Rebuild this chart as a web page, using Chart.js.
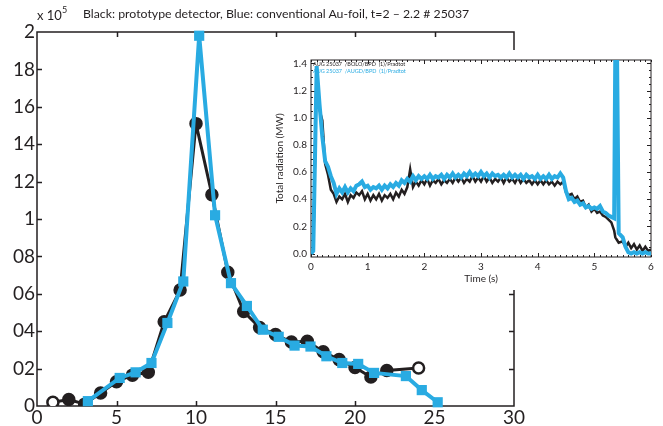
<!DOCTYPE html>
<html>
<head>
<meta charset="utf-8">
<script src="https://cdn.jsdelivr.net/npm/chart.js@4.4.1/dist/chart.umd.min.js"></script>
<style>
  body{ margin:0; background:#fff; }
  #wrap{ position:relative; width:663px; height:426px; overflow:hidden; font-family:Lato,"Noto Sans",sans-serif; color:#231f20; }
  #main{ position:absolute; left:0; top:0; }
  #inset{ position:absolute; left:270px; top:50px; background:#fff; }
  .ttl{ position:absolute; left:83px; top:6px; font-size:12.3px; white-space:nowrap; }
  .exp{ position:absolute; left:37px; top:6px; font-size:13px; white-space:nowrap; }
  .exp sup{ font-size:9px; position:relative; top:-2px; }
  .leg{ position:absolute; left:313px; font-size:5.5px; white-space:nowrap; line-height:1; }
</style>
</head>
<body>
<div id="wrap">
  <canvas id="main" width="663" height="426"></canvas>
  <canvas id="inset" width="393" height="240"></canvas>
  <div class="exp">x 10<sup>5</sup></div>
  <div class="ttl">Black: prototype detector, Blue: conventional Au-foil, t=2 – 2.2 # 25037</div>
  <div class="leg" style="top:62px;color:#231f20">AUG 25037 &nbsp;/BOLO/BPD &nbsp;(1)/Pradtot</div>
  <div class="leg" style="top:69px;color:#29abe2">AUG 25037 &nbsp;/AUGD/BPD &nbsp;(1)/Pradtot</div>
</div>
<script>
// ---- main plot: counts vs channel (x 10^5) ----
const blackX = [1, 2, 3, 4, 5, 6, 7, 8, 9, 10, 11, 12, 13, 14, 15, 16, 17, 18, 19, 20, 21, 22, 24];
const blackY = [0.02, 0.035, 0.01, 0.07, 0.13, 0.165, 0.18, 0.45, 0.62, 1.51, 1.13, 0.715, 0.505, 0.42, 0.382, 0.342, 0.346, 0.29, 0.248, 0.206, 0.155, 0.19, 0.203];
const blueX  = [3.2, 5.2, 6.2, 7.2, 8.2, 9.2, 10.2, 11.2, 12.2, 13.2, 14.2, 15.2, 16.2, 17.2, 18.2, 19.2, 20.2, 21.2, 23.2, 24.2, 25.2];
const blueY  = [0.026, 0.15, 0.18, 0.23, 0.444, 0.666, 1.98, 1.02, 0.657, 0.535, 0.408, 0.37, 0.323, 0.318, 0.266, 0.23, 0.225, 0.177, 0.16, 0.085, 0.02];
const yTickLabels = ['0', '02', '04', '06', '08', '1', '12', '14', '16', '18', '2'];
const xTickLabels = ['0', '5', '10', '15', '20', '25', '30'];

// ---- inset: total radiation (MW) vs time (s) ----
const insetT = [
  0, 0.04, 0.1, 0.15, 0.2, 0.25, 0.3, 0.35, 0.4, 0.45, 0.5, 0.55, 0.6, 0.65, 0.7, 0.75, 0.8, 0.85, 0.9, 0.95,
  1, 1.05, 1.1, 1.15, 1.2, 1.25, 1.3, 1.35, 1.4, 1.45, 1.5, 1.55, 1.6, 1.65, 1.7, 1.75, 1.8, 1.85, 1.9, 1.95,
  2, 2.05, 2.1, 2.15, 2.2, 2.25, 2.3, 2.35, 2.4, 2.45, 2.5, 2.55, 2.6, 2.65, 2.7, 2.75, 2.8, 2.85, 2.9, 2.95,
  3, 3.05, 3.1, 3.15, 3.2, 3.25, 3.3, 3.35, 3.4, 3.45, 3.5, 3.55, 3.6, 3.65, 3.7, 3.75, 3.8, 3.85, 3.9, 3.95,
  4, 4.05, 4.1, 4.15, 4.2, 4.25, 4.3, 4.35, 4.4, 4.45, 4.5, 4.55, 4.6, 4.65, 4.7, 4.75, 4.8, 4.85, 4.9, 4.95,
  5, 5.05, 5.1, 5.15, 5.2, 5.25, 5.3, 5.35, 5.37, 5.4, 5.43, 5.5, 5.55, 5.6, 5.65, 5.7, 5.75, 5.8, 5.85, 5.9, 5.95, 6
];
const bolo = [
  0, 0.02, 1.36, 1.06, 0.98, 0.66, 0.58, 0.47, 0.44, 0.38, 0.42, 0.40, 0.44, 0.38, 0.43, 0.41, 0.45, 0.43, 0.46, 0.40,
  0.44, 0.39, 0.43, 0.40, 0.44, 0.39, 0.43, 0.41, 0.44, 0.40, 0.45, 0.42, 0.47, 0.44, 0.49, 0.62, 0.49, 0.53, 0.50, 0.54,
  0.51, 0.55, 0.50, 0.54, 0.52, 0.55, 0.51, 0.54, 0.52, 0.55, 0.52, 0.56, 0.53, 0.56, 0.52, 0.55, 0.53, 0.57, 0.53, 0.56,
  0.53, 0.57, 0.53, 0.56, 0.52, 0.55, 0.53, 0.56, 0.52, 0.56, 0.53, 0.55, 0.52, 0.56, 0.52, 0.55, 0.52, 0.54, 0.51, 0.54,
  0.51, 0.54, 0.51, 0.54, 0.51, 0.53, 0.50, 0.53, 0.51, 0.53, 0.45, 0.43, 0.44, 0.40, 0.42, 0.38, 0.39, 0.34, 0.36, 0.31,
  0.33, 0.30, 0.31, 0.28, 0.27, 0.25, 0.23, 0.17, 0.12, 0.10, 0.08, 0.09, 0.05, 0.08, 0.04, 0.07, 0.03, 0.06, 0.02, 0.05, 0.02, 0.03
];
const augd = [
  0, 0.02, 1.38, 1.10, 0.86, 0.68, 0.64, 0.57, 0.52, 0.44, 0.48, 0.45, 0.49, 0.45, 0.48, 0.46, 0.50, 0.51, 0.53, 0.49,
  0.50, 0.47, 0.49, 0.48, 0.50, 0.47, 0.50, 0.48, 0.51, 0.49, 0.52, 0.50, 0.54, 0.52, 0.55, 0.53, 0.57, 0.54, 0.57, 0.55,
  0.57, 0.55, 0.58, 0.55, 0.57, 0.56, 0.58, 0.55, 0.58, 0.56, 0.59, 0.56, 0.58, 0.56, 0.59, 0.57, 0.60, 0.57, 0.59, 0.57,
  0.60, 0.57, 0.59, 0.56, 0.59, 0.57, 0.58, 0.56, 0.58, 0.56, 0.59, 0.56, 0.58, 0.56, 0.58, 0.55, 0.58, 0.56, 0.57, 0.55,
  0.58, 0.55, 0.57, 0.55, 0.58, 0.55, 0.57, 0.56, 0.59, 0.56, 0.46, 0.40, 0.41, 0.38, 0.39, 0.36, 0.37, 0.34, 0.35, 0.33,
  0.34, 0.33, 0.35, 0.31, 0.30, 0.28, 0.27, 0.26, 1.5, 1.5, 0.15, 0.12, 0.05, 0.01, 0, 0.01, 0, 0.01, 0, 0.01, 0, 0
];
const insetYLabels = ['0.0', '0.2', '0.4', '0.6', '0.8', '1.0', '1.2', '1.4'];

const INK = '#231f20', BLUE = '#29abe2';
const pts = (xs, ys) => xs.map((x, i) => ({ x, y: ys[i] }));

// inward ticks + box, drawn under the data
function frameTicks(opt){
  return {
    id: 'frameTicks',
    beforeDatasetsDraw(chart){
      const { ctx, chartArea: a, scales: { x, y } } = chart;
      ctx.save();
      ctx.strokeStyle = INK;
      ctx.lineWidth = opt.lw;
      ctx.beginPath();
      const mark = (list, scale, len, horiz) => {
        for (const v of list){
          const p = Math.round(scale.getPixelForValue(v)) + 0.5;
          if (horiz){
            ctx.moveTo(p, a.bottom); ctx.lineTo(p, a.bottom - len);
            ctx.moveTo(p, a.top);    ctx.lineTo(p, a.top + len);
          } else {
            ctx.moveTo(a.left, p);  ctx.lineTo(a.left + len, p);
            ctx.moveTo(a.right, p); ctx.lineTo(a.right - len, p);
          }
        }
      };
      mark(opt.xMajor, x, opt.major, true);
      mark(opt.yMajor, y, opt.major, false);
      if (opt.xMinor) mark(opt.xMinor, x, opt.minor, true);
      if (opt.yMinor) mark(opt.yMinor, y, opt.minor, false);
      ctx.stroke();
      ctx.strokeRect(a.left, a.top, a.right - a.left, a.bottom - a.top);
      ctx.restore();
    }
  };
}

const steps = (from, to, n) => { const r = []; for (let i = 0; i <= n; i++) r.push(from + (to - from) * i / n); return r; };

new Chart(document.getElementById('main'), {
  type: 'line',
  data: {
    datasets: [
      { label: 'prototype', data: pts(blackX, blackY), borderColor: INK, borderWidth: 3,
        pointStyle: 'circle', pointRadius: 5.5, pointBorderWidth: 2.5, pointBorderColor: INK,
        pointBackgroundColor: blackX.map((x, i) => (i === 0 || i === blackX.length - 1) ? '#fff' : INK),
        order: 1, tension: 0 },
      { label: 'Au-foil', data: pts(blueX, blueY), borderColor: BLUE, borderWidth: 4,
        pointStyle: 'rect', pointRadius: 7.2, pointBorderWidth: 0, pointBackgroundColor: BLUE,
        order: 0, tension: 0, clip: false }
    ]
  },
  options: {
    responsive: false, animation: false, devicePixelRatio: 1,
    layout: { padding: { top: 32, right: 149, left: 0, bottom: 0 } },
    plugins: { legend: { display: false }, tooltip: { enabled: false } },
    scales: {
      x: { type: 'linear', min: 0, max: 30,
        ticks: { stepSize: 5, callback: (v, i) => xTickLabels[i], color: INK, font: { family: 'Lato', size: 19 }, padding: 0, maxRotation: 0 },
        grid: { display: false, drawTicks: false }, border: { display: false },
        afterFit: s => { s.height = 20; } },
      y: { min: 0, max: 2,
        ticks: { stepSize: 0.2, callback: (v, i) => yTickLabels[i], color: INK, font: { family: 'Lato', size: 19 }, padding: 2 },
        grid: { display: false, drawTicks: false }, border: { display: false },
        afterFit: s => { s.width = 37; } }
    }
  },
  plugins: [frameTicks({ lw: 1.5, major: 5, minor: 0,
    xMajor: [5, 10, 15, 20, 25], yMajor: steps(0.2, 1.8, 8) })]
});

new Chart(document.getElementById('inset'), {
  type: 'line',
  data: {
    datasets: [
      { label: 'BOLO', data: pts(insetT, bolo), borderColor: INK, borderWidth: 2.5, pointRadius: 0, order: 1, tension: 0 },
      { label: 'AUGD', data: pts(insetT, augd), borderColor: BLUE, borderWidth: 4, pointRadius: 0, order: 0, tension: 0 }
    ]
  },
  options: {
    responsive: false, animation: false, devicePixelRatio: 1,
    layout: { padding: { top: 7, right: 12, left: 0, bottom: 0 } },
    plugins: { legend: { display: false }, tooltip: { enabled: false } },
    scales: {
      x: { type: 'linear', min: 0, max: 6,
        ticks: { stepSize: 1, color: INK, font: { family: 'Lato', size: 10 }, padding: 4, maxRotation: 0 },
        title: { display: true, text: 'Time (s)', color: INK, font: { family: 'Lato', size: 10 }, padding: { top: 0, bottom: 5 } },
        grid: { display: false, drawTicks: false }, border: { display: false },
        afterFit: s => { s.height = 33; } },
      y: { min: -0.025, max: 1.425,
        afterBuildTicks: s => { s.ticks = insetYLabels.map(t => ({ value: parseFloat(t) })); },
        ticks: { callback: (v, i) => insetYLabels[i], color: INK, font: { family: 'Lato', size: 10 }, padding: 4 },
        title: { display: true, text: 'Total radiation (MW)', color: INK, font: { family: 'Lato', size: 10 }, padding: { top: 4, bottom: 0 } },
        grid: { display: false, drawTicks: false }, border: { display: false },
        afterFit: s => { s.width = 41; } }
    }
  },
  plugins: [frameTicks({ lw: 1, major: 4, minor: 2,
    xMajor: [1, 2, 3, 4, 5], yMajor: steps(0, 1.4, 7),
    xMinor: steps(0, 6, 60), yMinor: steps(0, 1.4, 28) })]
});
</script>
</body>
</html>
